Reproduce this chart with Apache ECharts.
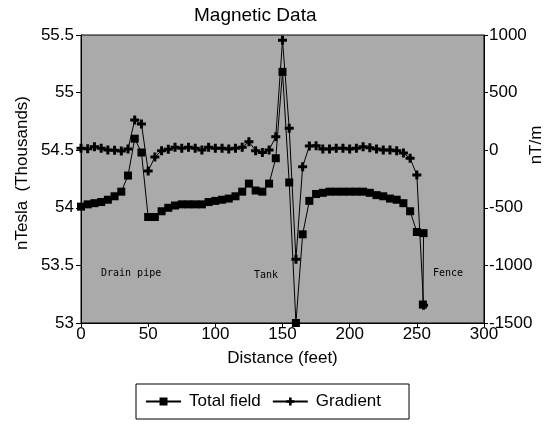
<!DOCTYPE html>
<html>
<head>
<meta charset="utf-8">
<script src="https://cdn.jsdelivr.net/npm/echarts@6/dist/echarts.min.js"></script>
<style>
html,body{margin:0;padding:0;background:#fff;}
#chart{width:549px;height:424px;}
</style>
</head>
<body>
<div id="chart"></div>
<script>
// Total field (nTesla, thousands) vs distance (feet)
var fieldDistance = [0,5,10,15,20,25,30,35,40,45,50,55,60,65,70,75,80,85,90,95,100,105,110,115,120,125,130,135,140,145,150,155,160,165,170,175,180,185,190,195,200,205,210,215,220,225,230,235,240,245,250,255,254.5];
var fieldValues = [54.01,54.03,54.04,54.05,54.07,54.10,54.14,54.28,54.60,54.48,53.92,53.92,53.97,54.00,54.02,54.03,54.03,54.03,54.03,54.05,54.06,54.07,54.08,54.10,54.14,54.21,54.15,54.14,54.21,54.43,55.18,54.22,53.00,53.77,54.06,54.12,54.13,54.14,54.14,54.14,54.14,54.14,54.14,54.13,54.11,54.10,54.08,54.07,54.04,53.97,53.79,53.78,53.16];
// Gradient (nT/m) vs distance (feet)
var gradDistance = [0,5,10,15,20,25,30,35,40,45,50,55,60,65,70,75,80,85,90,95,100,105,110,115,120,125,130,135,140,145,150,155,160,165,170,175,180,185,190,195,200,205,210,215,220,225,230,235,240,245,250,255];
var gradValues = [17,13,30,17,2,0,-7,10,262,228,-180,-60,-5,8,25,17,25,17,2,25,17,17,10,17,25,74,-4,-21,2,117,955,190,-947,-143,37,39,10,10,17,17,10,17,30,21,10,2,2,-4,-25,-70,-215,-1345];
// Axis ticks
var xTicks = {min:0, max:300, step:50};
var leftTicks = {min:53, max:55.5, step:0.5};
var rightTicks = {min:-1500, max:1000, step:500};
var seriesNames = ['Total field','Gradient'];
var annotations = ['Drain pipe','Tank','Fence'];

function pairs(xs, ys){ return xs.map(function(x,i){ return [x, ys[i]]; }); }

var FONT = 'Liberation Sans, Arial, sans-serif';
var CROSS = 'path://M3,0H6V3H9V6H6V9H3V6H0V3H3Z';
var chart = echarts.init(document.getElementById('chart'), null, {renderer:'canvas'});
var axisCommon = {
  axisLine:{show:true, onZero:false, lineStyle:{color:'#000', width:1}},
  axisTick:{show:true, length:4, lineStyle:{color:'#000', width:1}},
  splitLine:{show:false},
  axisLabel:{color:'#000', fontSize:17, fontFamily:FONT}
};
chart.setOption({
  animation:false,
  backgroundColor:'#fff',
  title:{text:'Magnetic Data', left:189, top:1,
    textStyle:{fontFamily:FONT, fontSize:19, fontWeight:'normal', color:'#000'}},
  grid:{left:81, right:65, top:35, bottom:101, show:true, backgroundColor:'#aaaaaa', borderColor:'#000', borderWidth:1},
  legend:{left:136, top:384, padding:[9,28,9,9], itemWidth:35, itemHeight:10, itemGap:11,
    borderColor:'#000', borderWidth:1, backgroundColor:'#fff',
    textStyle:{fontFamily:FONT, fontSize:17, color:'#000', padding:[0,0,0,3]},
    data:seriesNames},
  xAxis:Object.assign({}, axisCommon, {type:'value', min:xTicks.min, max:xTicks.max, interval:xTicks.step,
    axisLabel:Object.assign({}, axisCommon.axisLabel, {margin:3}),
    name:'Distance (feet)', nameLocation:'middle', nameGap:27,
    nameTextStyle:{fontFamily:FONT, fontSize:17, color:'#000'}}),
  yAxis:[
    Object.assign({}, axisCommon, {type:'value', position:'left', min:leftTicks.min, max:leftTicks.max, interval:leftTicks.step,
      axisTick:{show:true, length:5, lineStyle:{color:'#000'}},
      axisLabel:Object.assign({}, axisCommon.axisLabel, {margin:7, formatter:function(v){return String(v);}})}),
    Object.assign({}, axisCommon, {type:'value', position:'right', min:rightTicks.min, max:rightTicks.max, interval:rightTicks.step,
      axisTick:{show:true, length:4, lineStyle:{color:'#000'}},
      axisLabel:Object.assign({}, axisCommon.axisLabel, {margin:5, formatter:function(v){return String(v);}})})
  ],
  graphic:[
    {type:'text', x:22, y:173, rotation:Math.PI/2, style:{text:'nTesla  (Thousands)', fill:'#000', font:'17px '+FONT, textAlign:'center', textVerticalAlign:'middle'}},
    {type:'text', x:536, y:145, rotation:Math.PI/2, style:{text:'nT/m', fill:'#000', font:'17px '+FONT, textAlign:'center', textVerticalAlign:'middle'}},
    {type:'text', x:101, y:273, z:10, style:{text:annotations[0], fill:'#000', font:'10px DejaVu Sans Mono, monospace', textVerticalAlign:'middle'}},
    {type:'text', x:254, y:275, z:10, style:{text:annotations[1], fill:'#000', font:'10px DejaVu Sans Mono, monospace', textVerticalAlign:'middle'}},
    {type:'text', x:433, y:273, z:10, style:{text:annotations[2], fill:'#000', font:'10px DejaVu Sans Mono, monospace', textVerticalAlign:'middle'}}
  ],
  series:[
    {type:'line', name:seriesNames[0], yAxisIndex:0, data:pairs(fieldDistance, fieldValues),
      symbol:'rect', symbolSize:8, showAllSymbol:true, clip:false,
      lineStyle:{color:'#000', width:1}, itemStyle:{color:'#000', borderWidth:0}},
    {type:'line', name:seriesNames[1], yAxisIndex:1, data:pairs(gradDistance, gradValues),
      symbol:CROSS, symbolSize:9, showAllSymbol:true, clip:false,
      lineStyle:{color:'#000', width:1}, itemStyle:{color:'#000', borderWidth:0}}
  ]
});
</script>
</body>
</html>
